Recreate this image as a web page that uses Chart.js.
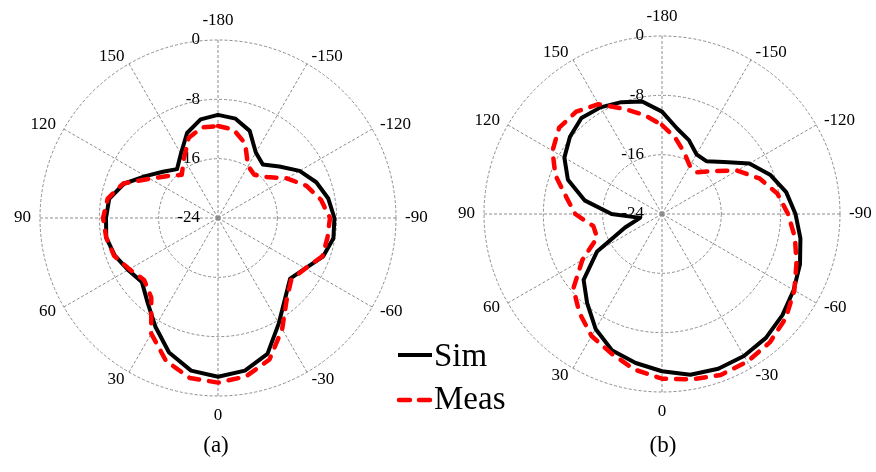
<!DOCTYPE html>
<html>
<head>
<meta charset="utf-8">
<script src="https://cdn.jsdelivr.net/npm/chart.js@4.4.1/dist/chart.umd.min.js"></script>
<style>
  html, body { margin: 0; padding: 0; background: #fff; }
  body { width: 876px; height: 472px; position: relative; overflow: hidden; font-family: "Liberation Serif", "Times New Roman", serif; }
  canvas { position: absolute; }
  #chartA { left: 0; top: 0; }
  #chartB { left: 444px; top: -4px; }
  .leg { position: absolute; font-size: 33px; line-height: 33px; white-space: nowrap; }
  .cap { position: absolute; width: 100px; text-align: center; font-size: 23px; line-height: 23px; }
  svg { position: absolute; left: 0; top: 0; }
</style>
</head>
<body>
<canvas id="chartA" width="436" height="436"></canvas>
<canvas id="chartB" width="436" height="436"></canvas>

<svg width="876" height="472">
  <line x1="398" y1="355" x2="432" y2="355" stroke="#000" stroke-width="4"/>
  <line x1="399" y1="400" x2="432" y2="400" stroke="#f00" stroke-width="4.5" stroke-linecap="round" stroke-dasharray="11 9"/>
</svg>
<div class="leg" style="left:434px; top:339px;">Sim</div>
<div class="leg" style="left:434px; top:382px;">Meas</div>
<div class="cap" style="left:166px; top:433px;">(a)</div>
<div class="cap" style="left:613px; top:433px;">(b)</div>

<script>
// angle of each sample, clockwise from the top of the plot
var angles = [-180, -170, -160, -150, -140, -130, -120, -110, -100, -90, -80, -70,
              -60, -50, -40, -30, -20, -10, 0, 10, 20, 30, 40, 50,
              60, 70, 80, 90, 100, 110, 120, 130, 140, 150, 160, 170];

// (a) pattern, dB
var simA = [-10.1, -10.4, -11.5, -13.8, -14.6, -13.2, -11.3, -9.9, -8.9, -8.3, -8.2, -8.9,
            -10.4, -11.3, -9.9, -7.6, -4.5, -3.1, -2.6, -3.1, -4.7, -7.1, -9.2, -10.6,
            -10.0, -9.2, -8.7, -8.9, -9.1, -10.5, -12.7, -14.3, -15.4, -14.0, -11.8, -10.5];
var measA = [-11.6, -11.9, -13.3, -15.9, -16.4, -15.4, -13.3, -11.3, -9.9, -8.9, -9.0, -9.0,
             -10.4, -11.1, -9.6, -6.7, -3.7, -2.3, -1.8, -2.1, -3.5, -6.0, -10.0, -11.0,
             -10.2, -9.1, -8.7, -8.5, -8.9, -10.4, -13.4, -15.2, -16.4, -14.8, -12.5, -11.6];

// (b) pattern, dB
var simB = [-10.2, -12.3, -13.4, -14.7, -14.7, -13.1, -10.4, -8.5, -7.0, -6.0, -5.05, -4.2,
            -3.5, -2.8, -2.2, -1.9, -1.8, -2.0, -2.8, -3.6, -4.4, -6.1, -8.3, -10.2,
            -13.9, -18.7, -21.0, -17.2, -13.4, -10.5, -8.8, -7.8, -7.1, -7.4, -7.95, -8.6];
var measB = [-12.0, -13.6, -15.2, -16.5, -16.65, -15.0, -12.3, -10.0, -8.2, -7.0, -5.8, -4.7,
             -3.4, -2.2, -1.4, -1.0, -0.9, -1.35, -1.8, -2.7, -4.0, -5.0, -6.65, -8.4,
             -11.6, -14.7, -14.6, -12.3, -10.9, -8.7, -6.95, -5.9, -6.0, -6.9, -8.9, -10.45];

var rMin = -24, rMax = 0, rStep = 8;
var gridColor = '#8c8c8c';

// angle labels every 30 deg, dB labels up the vertical spoke, dot at the pole
var polarLabels = {
    id: 'polarLabels',
    beforeDatasetsDraw: function(chart) {
        var r = chart.scales.r;
        var ctx = chart.ctx;
        var R = r.drawingArea;
        ctx.save();
        ctx.fillStyle = gridColor;
        ctx.beginPath();
        ctx.arc(r.xCenter, r.yCenter, 2.5, 0, Math.PI * 2);
        ctx.fill();

        ctx.font = '17px "Liberation Serif"';
        ctx.fillStyle = '#000';
        ctx.textBaseline = 'middle';
        ctx.textAlign = 'center';
        for (var i = 0; i < angles.length; i++) {
            if (angles[i] % 30 !== 0) continue;
            var end = r.getPointPosition(i, R);
            var sx = (end.x - r.xCenter) / R;
            var sy = (end.y - r.yCenter) / R;
            var text = String(angles[i]);
            var w = ctx.measureText(text).width;
            var x = end.x, y = end.y;
            if (Math.abs(sx) < 0.01) {
                y += sy * 19.5;
            } else {
                x += sx * 9 + Math.sign(sx) * w / 2;
                y += sy * 8.5;
            }
            ctx.fillText(text, x, y);
        }

        ctx.textAlign = 'right';
        r.ticks.forEach(function(t) {
            var d = r.getDistanceFromCenterForValue(t.value);
            ctx.fillText(String(t.value), r.xCenter - 18, r.yCenter - d);
        });
        ctx.restore();
    }
};

function makeChart(id, sim, meas) {
    return new Chart(document.getElementById(id), {
        type: 'radar',
        data: {
            labels: angles,
            datasets: [{
                label: 'Sim',
                data: sim,
                borderColor: '#000',
                borderWidth: 4,
                pointRadius: 0,
                fill: false,
                order: 1
            }, {
                label: 'Meas',
                data: meas,
                borderColor: '#f00',
                borderWidth: 4.5,
                borderDash: [10, 10],
                borderCapStyle: 'round',
                pointRadius: 0,
                fill: false,
                order: 0
            }]
        },
        options: {
            responsive: false,
            animation: false,
            layout: { padding: 40 },
            elements: { line: { tension: 0, borderJoinStyle: 'round' } },
            plugins: { legend: { display: false }, tooltip: { enabled: false } },
            scales: {
                r: {
                    min: rMin,
                    max: rMax,
                    ticks: { stepSize: rStep, display: false },
                    pointLabels: { display: false },
                    grid: { circular: true, color: gridColor, lineWidth: 1 },
                    border: { dash: [3, 2] },
                    angleLines: {
                        color: gridColor,
                        borderDash: [3, 2],
                        lineWidth: function(c) { return c.index % 3 === 0 ? 1 : 0; }
                    }
                }
            }
        },
        plugins: [polarLabels]
    });
}

makeChart('chartA', simA, measA);
makeChart('chartB', simB, measB);
</script>
</body>
</html>
